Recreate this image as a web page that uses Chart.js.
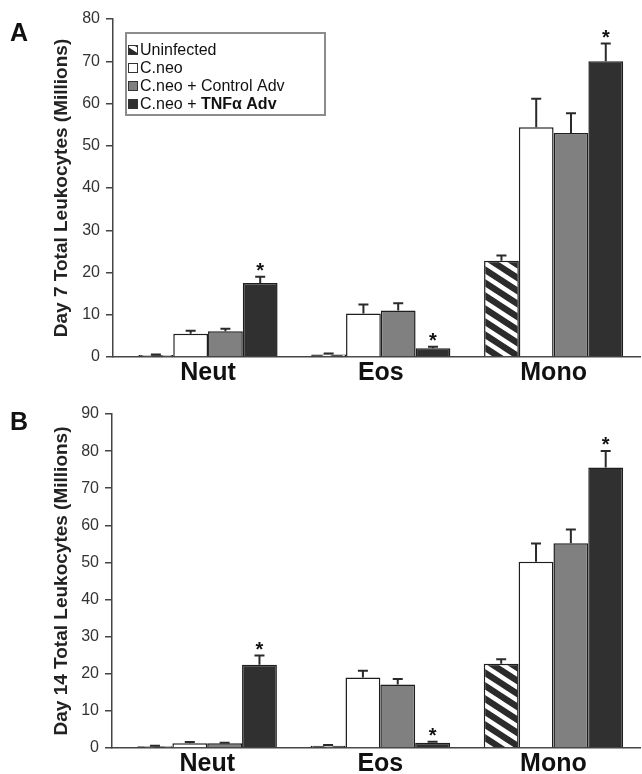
<!DOCTYPE html>
<html lang="en">
<head>
<meta charset="UTF-8">
<title>Total Leukocytes, Day 7 and Day 14</title>
<script src="https://cdn.jsdelivr.net/npm/chart.js"></script>
<style>
  body { margin: 0; background: #fff; }
  canvas { position: absolute; left: 0; }
  #chartA { top: 0; }
  #chartB { top: 390px; }
</style>
</head>
<body>
<canvas id="chartA" width="642" height="390"></canvas>
<canvas id="chartB" width="642" height="384"></canvas>
<script>
const categories = ['Neut', 'Eos', 'Mono'];
const seriesNames = ['Uninfected', 'C.neo', 'C.neo + Control Adv', 'C.neo + TNFα Adv'];

// Day 7 (panel A)
const day7Uninfected = [0.5, 0.6, 22.8];
const day7Cneo = [5.5, 10.3, 54.4];
const day7Control = [6.1, 11.0, 53.0];
const day7Tnf = [17.5, 2.1, 70.0];
const day7UninfectedErr = [0.1, 0.2, 1.2];
const day7CneoErr = [0.7, 2.1, 6.7];
const day7ControlErr = [0.6, 1.7, 4.7];
const day7TnfErr = [1.5, 0.3, 4.2];

// Day 14 (panel B)
const day14Uninfected = [0.5, 0.6, 22.7];
const day14Cneo = [1.3, 19.0, 50.2];
const day14Control = [1.3, 17.1, 55.2];
const day14Tnf = [22.4, 1.4, 75.6];
const day14UninfectedErr = [0.1, 0.2, 1.2];
const day14CneoErr = [0.3, 1.8, 4.9];
const day14ControlErr = [0.1, 1.5, 3.7];
const day14TnfErr = [2.5, 0.3, 4.4];

// * marks on the TNF bars
const tnfStars = [true, true, true];

const FONT = "'Liberation Sans', Arial, sans-serif";
const INK = '#2a2a2a';

function makeHatch() {
    const w = 20, h = 13;
    const c = document.createElement('canvas');
    c.width = w; c.height = h;
    const g = c.getContext('2d');
    g.fillStyle = '#2b2b2b';
    g.fillRect(0, 0, w, h);
    g.strokeStyle = '#fff';
    g.lineWidth = 4.5;
    g.beginPath();
    for (const k of [-w, 0, w]) {
        g.moveTo(k - w, -h);
        g.lineTo(k + 2 * w, 2 * h);
    }
    g.stroke();
    return g.createPattern(c, 'repeat');
}
const hatch = makeHatch();
const fills = [hatch, '#ffffff', '#808080', '#303030'];

const toPoints = arr => arr.map((v, i) => ({ x: i, y: v }));

function buildDatasets(values, errors) {
    return values.map((vals, s) => ({
        label: seriesNames[s],
        data: toPoints(vals),
        errors: errors[s],
        stars: s === 3 ? tnfStars : null,
        backgroundColor: fills[s],
        borderColor: '#1e1e1e',
        borderWidth: 1.5,
        barPercentage: 1,
        categoryPercentage: 0.805
    }));
}

// error bars (upper half only) and significance stars
const errorBars = {
    id: 'errorBars',
    afterDatasetsDraw(chart) {
        const ctx = chart.ctx;
        const y = chart.scales.y;
        ctx.save();
        chart.data.datasets.forEach((ds, di) => {
            const meta = chart.getDatasetMeta(di);
            meta.data.forEach((bar, i) => {
                const v = ds.data[i].y;
                const top = y.getPixelForValue(v + ds.errors[i]);
                ctx.strokeStyle = INK;
                ctx.lineWidth = 2;
                ctx.beginPath();
                ctx.moveTo(bar.x, bar.y);
                ctx.lineTo(bar.x, top);
                ctx.moveTo(bar.x - 5, top);
                ctx.lineTo(bar.x + 5, top);
                ctx.stroke();
                if (ds.stars && ds.stars[i]) {
                    ctx.fillStyle = '#111';
                    ctx.font = 'bold 20px ' + FONT;
                    ctx.textAlign = 'center';
                    ctx.textBaseline = 'alphabetic';
                    ctx.fillText('*', bar.x, top);
                }
            });
        });
        ctx.restore();
    }
};

// panel letter and (for panel A) the boxed legend
const decorations = {
    id: 'decorations',
    afterDraw(chart, args, opts) {
        const ctx = chart.ctx;
        ctx.save();
        ctx.fillStyle = '#111';
        ctx.font = 'bold 25px ' + FONT;
        ctx.textAlign = 'left';
        ctx.textBaseline = 'alphabetic';
        ctx.fillText(opts.letter, 10, opts.letterY);

        if (opts.legend) {
            ctx.strokeStyle = '#8c8c8c';
            ctx.lineWidth = 2;
            ctx.strokeRect(126, 33, 199, 82);
            const rows = [50, 68, 86, 104];
            seriesNames.forEach((name, s) => {
                const ry = rows[s];
                ctx.fillStyle = fills[s];
                ctx.fillRect(128, ry - 5, 10, 10);
                ctx.strokeStyle = '#333';
                ctx.lineWidth = 1;
                ctx.strokeRect(128.5, ry - 4.5, 9, 9);
                ctx.fillStyle = '#111';
                ctx.textBaseline = 'middle';
                ctx.font = '16px ' + FONT;
                const cut = name.indexOf('TNF');
                if (cut < 0) {
                    ctx.fillText(name, 140, ry + 1);
                } else {
                    const head = name.slice(0, cut);
                    ctx.fillText(head, 140, ry + 1);
                    const w = ctx.measureText(head).width;
                    ctx.font = 'bold 16px ' + FONT;
                    ctx.fillText(name.slice(cut), 140 + w, ry + 1);
                }
            });
        }
        ctx.restore();
    }
};

function makeChart(id, datasets, cfg) {
    return new Chart(document.getElementById(id), {
        type: 'bar',
        data: { datasets: datasets },
        options: {
            responsive: false,
            animation: false,
            layout: { padding: { left: 40, top: cfg.top, right: 2, bottom: 0 } },
            plugins: {
                legend: { display: false },
                tooltip: { enabled: false },
                decorations: { letter: cfg.letter, letterY: cfg.letterY, legend: cfg.legend }
            },
            scales: {
                x: {
                    type: 'linear',
                    min: -0.55,
                    max: 2.5,
                    offset: false,
                    afterFit: s => { s.height = cfg.xHeight; },
                    grid: { display: false, drawTicks: false, offset: false },
                    border: { display: true, color: '#444', width: 1.5 },
                    ticks: {
                        stepSize: 1,
                        includeBounds: false,
                        autoSkip: false,
                        maxRotation: 0,
                        padding: 1,
                        color: '#111',
                        font: { family: FONT, size: 25, weight: 'bold' },
                        callback: v => categories[v] ?? ''
                    }
                },
                y: {
                    min: 0,
                    max: cfg.max,
                    afterFit: s => { s.width = cfg.yWidth; },
                    grid: { drawOnChartArea: false, drawTicks: true, tickLength: 7, color: '#444', lineWidth: 1.5 },
                    border: { display: true, color: '#444', width: 1.5 },
                    ticks: {
                        stepSize: 10,
                        padding: 6,
                        color: '#333',
                        font: { family: FONT, size: 16 }
                    },
                    title: {
                        display: true,
                        text: cfg.title,
                        color: '#222',
                        padding: { top: 10, bottom: 0 },
                        font: { family: FONT, size: 19, weight: 'bold' }
                    }
                }
            }
        },
        plugins: [errorBars, decorations]
    });
}

makeChart('chartA',
    buildDatasets([day7Uninfected, day7Cneo, day7Control, day7Tnf],
                  [day7UninfectedErr, day7CneoErr, day7ControlErr, day7TnfErr]),
    { top: 19, xHeight: 33, yWidth: 73, max: 80, title: 'Day 7 Total Leukocytes (Millions)', letter: 'A', letterY: 41, legend: true });

makeChart('chartB',
    buildDatasets([day14Uninfected, day14Cneo, day14Control, day14Tnf],
                  [day14UninfectedErr, day14CneoErr, day14ControlErr, day14TnfErr]),
    { top: 24, xHeight: 26, yWidth: 72, max: 90, title: 'Day 14 Total Leukocytes (Millions)', letter: 'B', letterY: 40, legend: false });
</script>
</body>
</html>
